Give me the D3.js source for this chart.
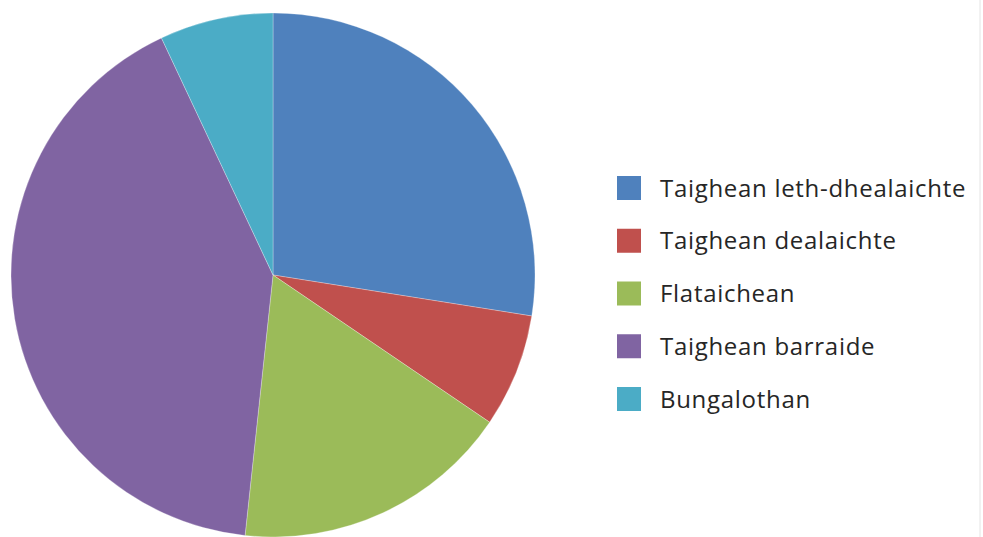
<!DOCTYPE html>
<html>
<head>
<meta charset="utf-8">
<script src="https://cdn.jsdelivr.net/npm/d3@7"></script>
<style>
  body { margin: 0; background: #fff; }
  svg { display: block; }
  .legend text { font-family: "Open Sans", sans-serif; font-size: 24px; letter-spacing: 0.7px; fill: #262626; }
</style>
</head>
<body>
<div id="chart"></div>
<script>
const width = 983;
const height = 537;

// slice names and shares (percent)
const categories = ['Taighean leth-dhealaichte', 'Taighean dealaichte', 'Flataichean', 'Taighean barraide', 'Bungalothan'];
const values = [27.5, 7.0, 17.2, 41.3, 7.0];
const colors = ['#4F81BD', '#C0504D', '#9BBB59', '#8064A2', '#4BACC6'];

const data = categories.map((name, i) => ({ name, value: values[i], color: colors[i] }));

const svg = d3.select('#chart')
  .append('svg')
  .attr('width', width)
  .attr('height', height);

const cx = 273, cy = 275, radius = 262;

const pie = d3.pie().sort(null).value(d => d.value);
const arc = d3.arc().innerRadius(0).outerRadius(radius);

svg.append('g')
  .attr('transform', `translate(${cx},${cy})`)
  .selectAll('path')
  .data(pie(data))
  .join('path')
  .attr('d', arc)
  .attr('fill', d => d.data.color)
  .attr('stroke', '#ffffff')
  .attr('stroke-opacity', 0.35)
  .attr('stroke-width', 0.8);

// legend
const legendY = d3.scalePoint()
  .domain(categories)
  .range([188, 399]);

const legend = svg.append('g').attr('class', 'legend');
const rows = legend.selectAll('g')
  .data(data)
  .join('g')
  .attr('transform', d => `translate(617,${legendY(d.name)})`);

rows.append('rect')
  .attr('x', 0)
  .attr('y', -12)
  .attr('width', 24)
  .attr('height', 24)
  .attr('fill', d => d.color);

rows.append('text')
  .attr('x', 43)
  .attr('y', 0)
  .attr('dy', '0.36em')
  .text(d => d.name);

// faint right-hand border
svg.append('line')
  .attr('x1', 980).attr('x2', 980)
  .attr('y1', 0).attr('y2', height)
  .attr('stroke', '#e4e4e4')
  .attr('stroke-width', 1);
</script>
</body>
</html>
